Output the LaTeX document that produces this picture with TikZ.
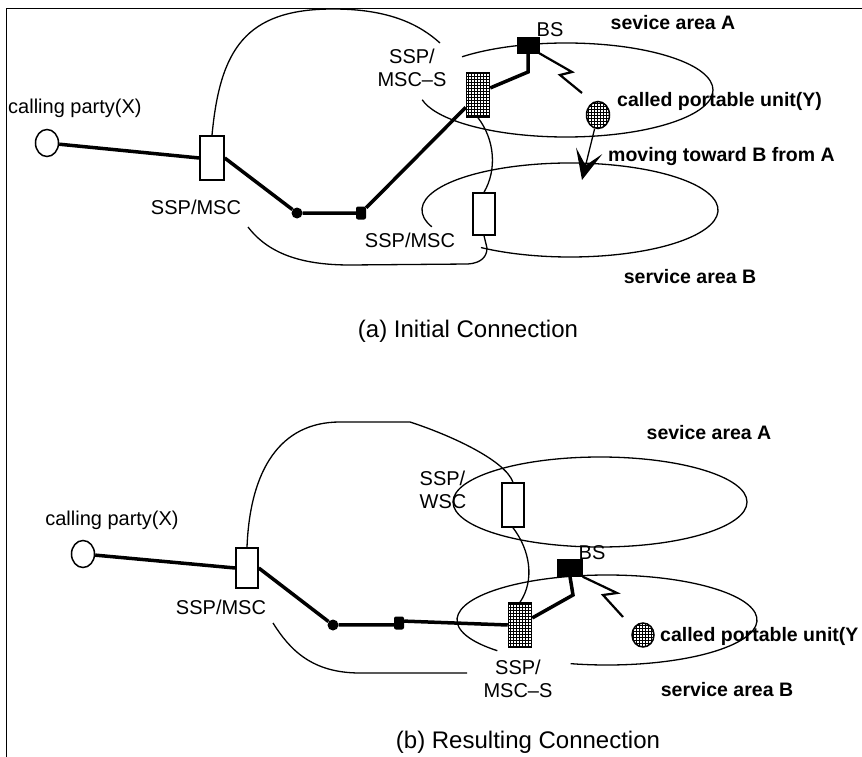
\documentclass[tikz,border=0pt]{standalone}
\usepackage{fontspec}
\setmainfont{Liberation Sans}
\usetikzlibrary{shapes.geometric,patterns,arrows.meta}

\begin{document}
\begin{tikzpicture}[x=1pt,y=-1pt,
    lbl/.style={font=\fontsize{20}{23}\selectfont,inner sep=0pt},
    hvy/.style={font=\fontsize{19.5}{23}\selectfont\bfseries,inner sep=0pt},
    ttl/.style={font=\fontsize{24}{28}\selectfont,inner sep=0pt},
    sw/.style={draw,line width=1.5pt,minimum width=22pt,minimum height=44pt,inner sep=0pt},
    sws/.style={sw,pattern=grid},
    bs/.style={draw,fill=black,minimum width=22pt,minimum height=16pt,inner sep=0pt},
    phone/.style={draw,ellipse,line width=1.5pt,minimum width=23pt,minimum height=27pt,inner sep=0pt},
    unit/.style={phone,pattern=grid},
    dot/.style={circle,fill=black,minimum size=11pt,inner sep=0pt},
    jn/.style={rectangle,rounded corners=2pt,fill=black,minimum width=10pt,minimum height=13pt,inner sep=0pt},
    wire/.style={line width=1.3pt},
    link/.style={line width=3.5pt},
    bolt/.style={line width=2.2pt}]
    \useasboundingbox (0,0) rectangle (862,757);
    \draw[line width=0.9pt] (6,757) -- (6,8) -- (862,8);

    % (a) initial connection
    \node[phone] (xa) at (47,143) {};
    \node[sw,minimum width=24pt] (ma) at (212,158) {};
    \node[dot] (d1a) at (297,213) {};
    \node[jn] (d2a) at (361,213) {};
    \node[sws,minimum width=23pt] (sa) at (478,95) {};
    \node[bs] (ba) at (528,45) {};
    \node[unit] (ya) at (598,115) {};
    \node[sw,minimum height=42pt] (na) at (484,214) {};
    \coordinate (ea) at (566,90);
    \coordinate (eb) at (570,210);
    \coordinate (ta) at (440,43);
    \coordinate (la) at (248,227);
    \coordinate (hk) at (487,248);
    \coordinate (mv) at (582,180);

    \draw[wire] ([shift={(225:147 and 47)}]ea) arc[start angle=225,end angle=528,x radius=147,y radius=47];
    \draw[wire] ([shift={(159:148 and 47)}]eb) arc[start angle=159,end angle=487,x radius=148,y radius=47];
    \draw[wire] (ma.north) .. controls (220,50) and (245,9) .. (333,9) .. controls (390,9) and (420,25) .. (ta);
    \draw[wire] (la) .. controls (268,253) and (300,265) .. (350,265) -- (468,264) .. controls (482,263) and (487,256) .. (hk);
    \draw[wire] (na.south) -- (hk);
    \draw[wire] (sa.south) .. controls (495,140) and (497,170) .. (na.north);

    \draw[link] (xa) -- (ma.west);
    \draw[link] (ma.east) -- (d1a) -- (d2a) -- (sa);
    \draw[link] (sa.30) -- (528,72) -- (ba.south);
    \draw[bolt] (ba.south east) -- (572,72) -- (560,75) -- (582,93);
    \draw[wire,-{Stealth[length=30pt,width=27pt,inset=15pt]}] (ya) -- (mv);

    \node[lbl,anchor=west] (ca) at (8,108) {calling party(X)};
    \node[lbl] (mla) at (196,207) {SSP/MSC};
    \node[lbl,align=center] (sla) at (412,68) {SSP/\\MSC--S};
    \node[lbl] (bla) at (550,30) {BS};
    \node[hvy] (aa) at (673,23) {sevice area A};
    \node[hvy,anchor=west] (yla) at (617,101) {called portable unit(Y)};
    \node[hvy,anchor=west] (mva) at (608,157) {moving toward B from A};
    \node[lbl] (nla) at (410,240) {SSP/MSC};
    \node[hvy] (ab) at (690,277) {service area B};
    \node[ttl] (capa) at (468,331) {(a) Initial Connection};

    % (b) resulting connection
    \node[phone] (xb) at (83,554) {};
    \node[sw,minimum height=40pt] (mb) at (247,568) {};
    \node[dot] (d1b) at (333,625) {};
    \node[jn] (d2b) at (399,623) {};
    \node[sw] (wb) at (513,505) {};
    \node[sws,minimum width=23pt] (sb) at (520,625) {};
    \node[bs,minimum width=25pt,minimum height=17pt] (bb) at (570,568) {};
    \node[unit,minimum width=22pt,minimum height=24pt] (yb) at (643,635) {};
    \coordinate (fa) at (600,502);
    \coordinate (fb) at (607,620);
    \coordinate (lb1) at (273,623);
    \coordinate (lb2) at (467,673);

    \draw[wire] (fa) ellipse[x radius=147,y radius=45];
    \draw[wire] ([shift={(137:150 and 45)}]fb) arc[start angle=137,end angle=464,x radius=150,y radius=45];
    \draw[wire] (mb.north) .. controls (250,470) and (280,422) .. (340,422) -- (410,422) .. controls (450,435) and (505,460) .. (wb.north);
    \draw[wire] (lb1) .. controls (290,650) and (312,673) .. (360,673) -- (lb2);
    \draw[wire] (wb.south) .. controls (530,550) and (535,580) .. (sb.north);

    \draw[link] (xb) -- (mb.west);
    \draw[link] (mb.east) -- (d1b) -- (d2b.200);
    \draw[link] (d2b.20) -- (sb.west);
    \draw[link] (sb.30) -- (573,595) -- (bb.south);
    \draw[bolt] (bb.south east) -- (617,593) -- (603,595) -- (623,617);

    \node[lbl] (cb) at (112,520) {calling party(X)};
    \node[lbl] (mlb) at (221,607) {SSP/MSC};
    \node[lbl,align=left] (wlb) at (443,490) {SSP/\\WSC};
    \node[hvy] (ba2) at (709,433) {sevice area A};
    \node[lbl] (blb) at (592,553) {BS};
    \node[hvy,anchor=west] (ylb) at (660,636) {called portable unit(Y};
    \node[lbl,align=center] (slb) at (518,679) {SSP/\\MSC--S};
    \node[hvy] (bb2) at (727,690) {service area B};
    \node[ttl] (capb) at (528,742) {(b) Resulting Connection};
\end{tikzpicture}
\end{document}
